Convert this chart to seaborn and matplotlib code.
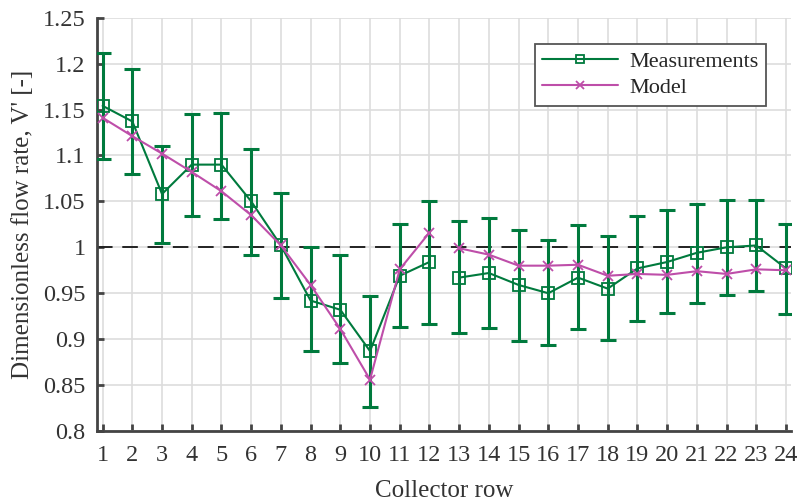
import matplotlib
matplotlib.use("Agg")
import matplotlib.pyplot as plt
import seaborn as sns
import pandas as pd
import numpy as np

rows = list(range(1, 25))
meas = [1.154, 1.137, 1.058, 1.090, 1.090, 1.050, 1.002, 0.942, 0.932, 0.887, 0.969, 0.984,
        0.967, 0.972, 0.959, 0.950, 0.967, 0.955, 0.977, 0.984, 0.994, 1.000, 1.002, 0.977]
meas_hi = [1.212, 1.194, 1.110, 1.145, 1.146, 1.107, 1.059, 1.000, 0.992, 0.947, 1.025, 1.050,
           1.029, 1.032, 1.019, 1.008, 1.024, 1.012, 1.034, 1.041, 1.047, 1.052, 1.052, 1.025]
meas_lo = [1.096, 1.080, 1.005, 1.034, 1.031, 0.992, 0.945, 0.887, 0.874, 0.826, 0.913, 0.917,
           0.907, 0.912, 0.898, 0.894, 0.911, 0.899, 0.920, 0.928, 0.939, 0.948, 0.952, 0.927]
model = [1.141, 1.121, 1.102, 1.082, 1.061, 1.035, 1.002, 0.959, 0.911, 0.856, 0.976, 1.016,
         0.999, 0.992, 0.980, 0.980, 0.981, 0.969, 0.971, 0.970, 0.974, 0.971, 0.976, 0.975]
segment = [1] * 12 + [2] * 12

df = pd.DataFrame({'row': rows, 'meas': meas, 'model': model, 'seg': segment})

green = '#007A3D'
pink = '#BE4EA9'

sns.set_theme(style="whitegrid")
plt.rcParams['font.family'] = ['Liberation Serif', 'DejaVu Serif']

fig = plt.figure(figsize=(7.99, 5.04), dpi=100)
ax = fig.add_axes([0.121, 0.1448, 0.869, 0.8202])

ax.axhline(1.0, color='#222222', lw=1.4, dashes=(8, 5), zorder=2)

yerr = np.array([np.array(meas) - np.array(meas_lo), np.array(meas_hi) - np.array(meas)])
ax.errorbar(df['row'], df['meas'], yerr=yerr, fmt='none', ecolor=green, elinewidth=2.2,
            capsize=6, capthick=2.2, zorder=3)

for seg, d in df.groupby('seg'):
    sns.lineplot(data=d, x='row', y='meas', ax=ax, color=green, marker='s', markersize=8,
                 markerfacecolor='none', markeredgecolor=green, markeredgewidth=1.3,
                 linewidth=1.5, zorder=4, label='Measurements' if seg == 1 else None)
    sns.lineplot(data=d, x='row', y='model', ax=ax, color=pink, marker='x', markersize=7,
                 markeredgecolor=pink, markeredgewidth=1.3,
                 linewidth=1.5, zorder=5, label='Model' if seg == 1 else None)

ax.set_xlim(0.8, 24.17)
ax.set_ylim(0.8, 1.25)
ax.set_xticks(rows)
ax.set_yticks(np.arange(0.8, 1.2501, 0.05))
ax.set_yticklabels(['0.8', '0.85', '0.9', '0.95', '1', '1.05', '1.1', '1.15', '1.2', '1.25'])
ax.grid(True, color='#dddddd', lw=1.2)
ax.set_axisbelow(True)

sns.despine(ax=ax)
for s in ['left', 'bottom']:
    ax.spines[s].set_color('#444444')
    ax.spines[s].set_linewidth(2)
ax.tick_params(direction='in', length=5, width=2, color='#444444', labelcolor='#333333',
               labelsize=17.5, left=True, bottom=True)
ax.tick_params(axis='x', pad=10)
ax.tick_params(axis='y', pad=8)

ax.set_xlabel('Collector row', fontsize=18, color='#333333', labelpad=10)
ax.set_ylabel("Dimensionless flow rate, V' [-]", fontsize=18, color='#333333', labelpad=6)

leg = ax.legend(loc='upper right', bbox_to_anchor=(0.964, 0.937), borderaxespad=0,
                fontsize=16, frameon=True, fancybox=False, framealpha=1, edgecolor='#555555',
                handlelength=3.4, borderpad=0.35, labelspacing=0.25, handletextpad=0.5)
leg.get_frame().set_linewidth(1.3)
for h in leg.legend_handles:
    h.set_markersize(6)

fig.savefig('out.png', dpi=100)
